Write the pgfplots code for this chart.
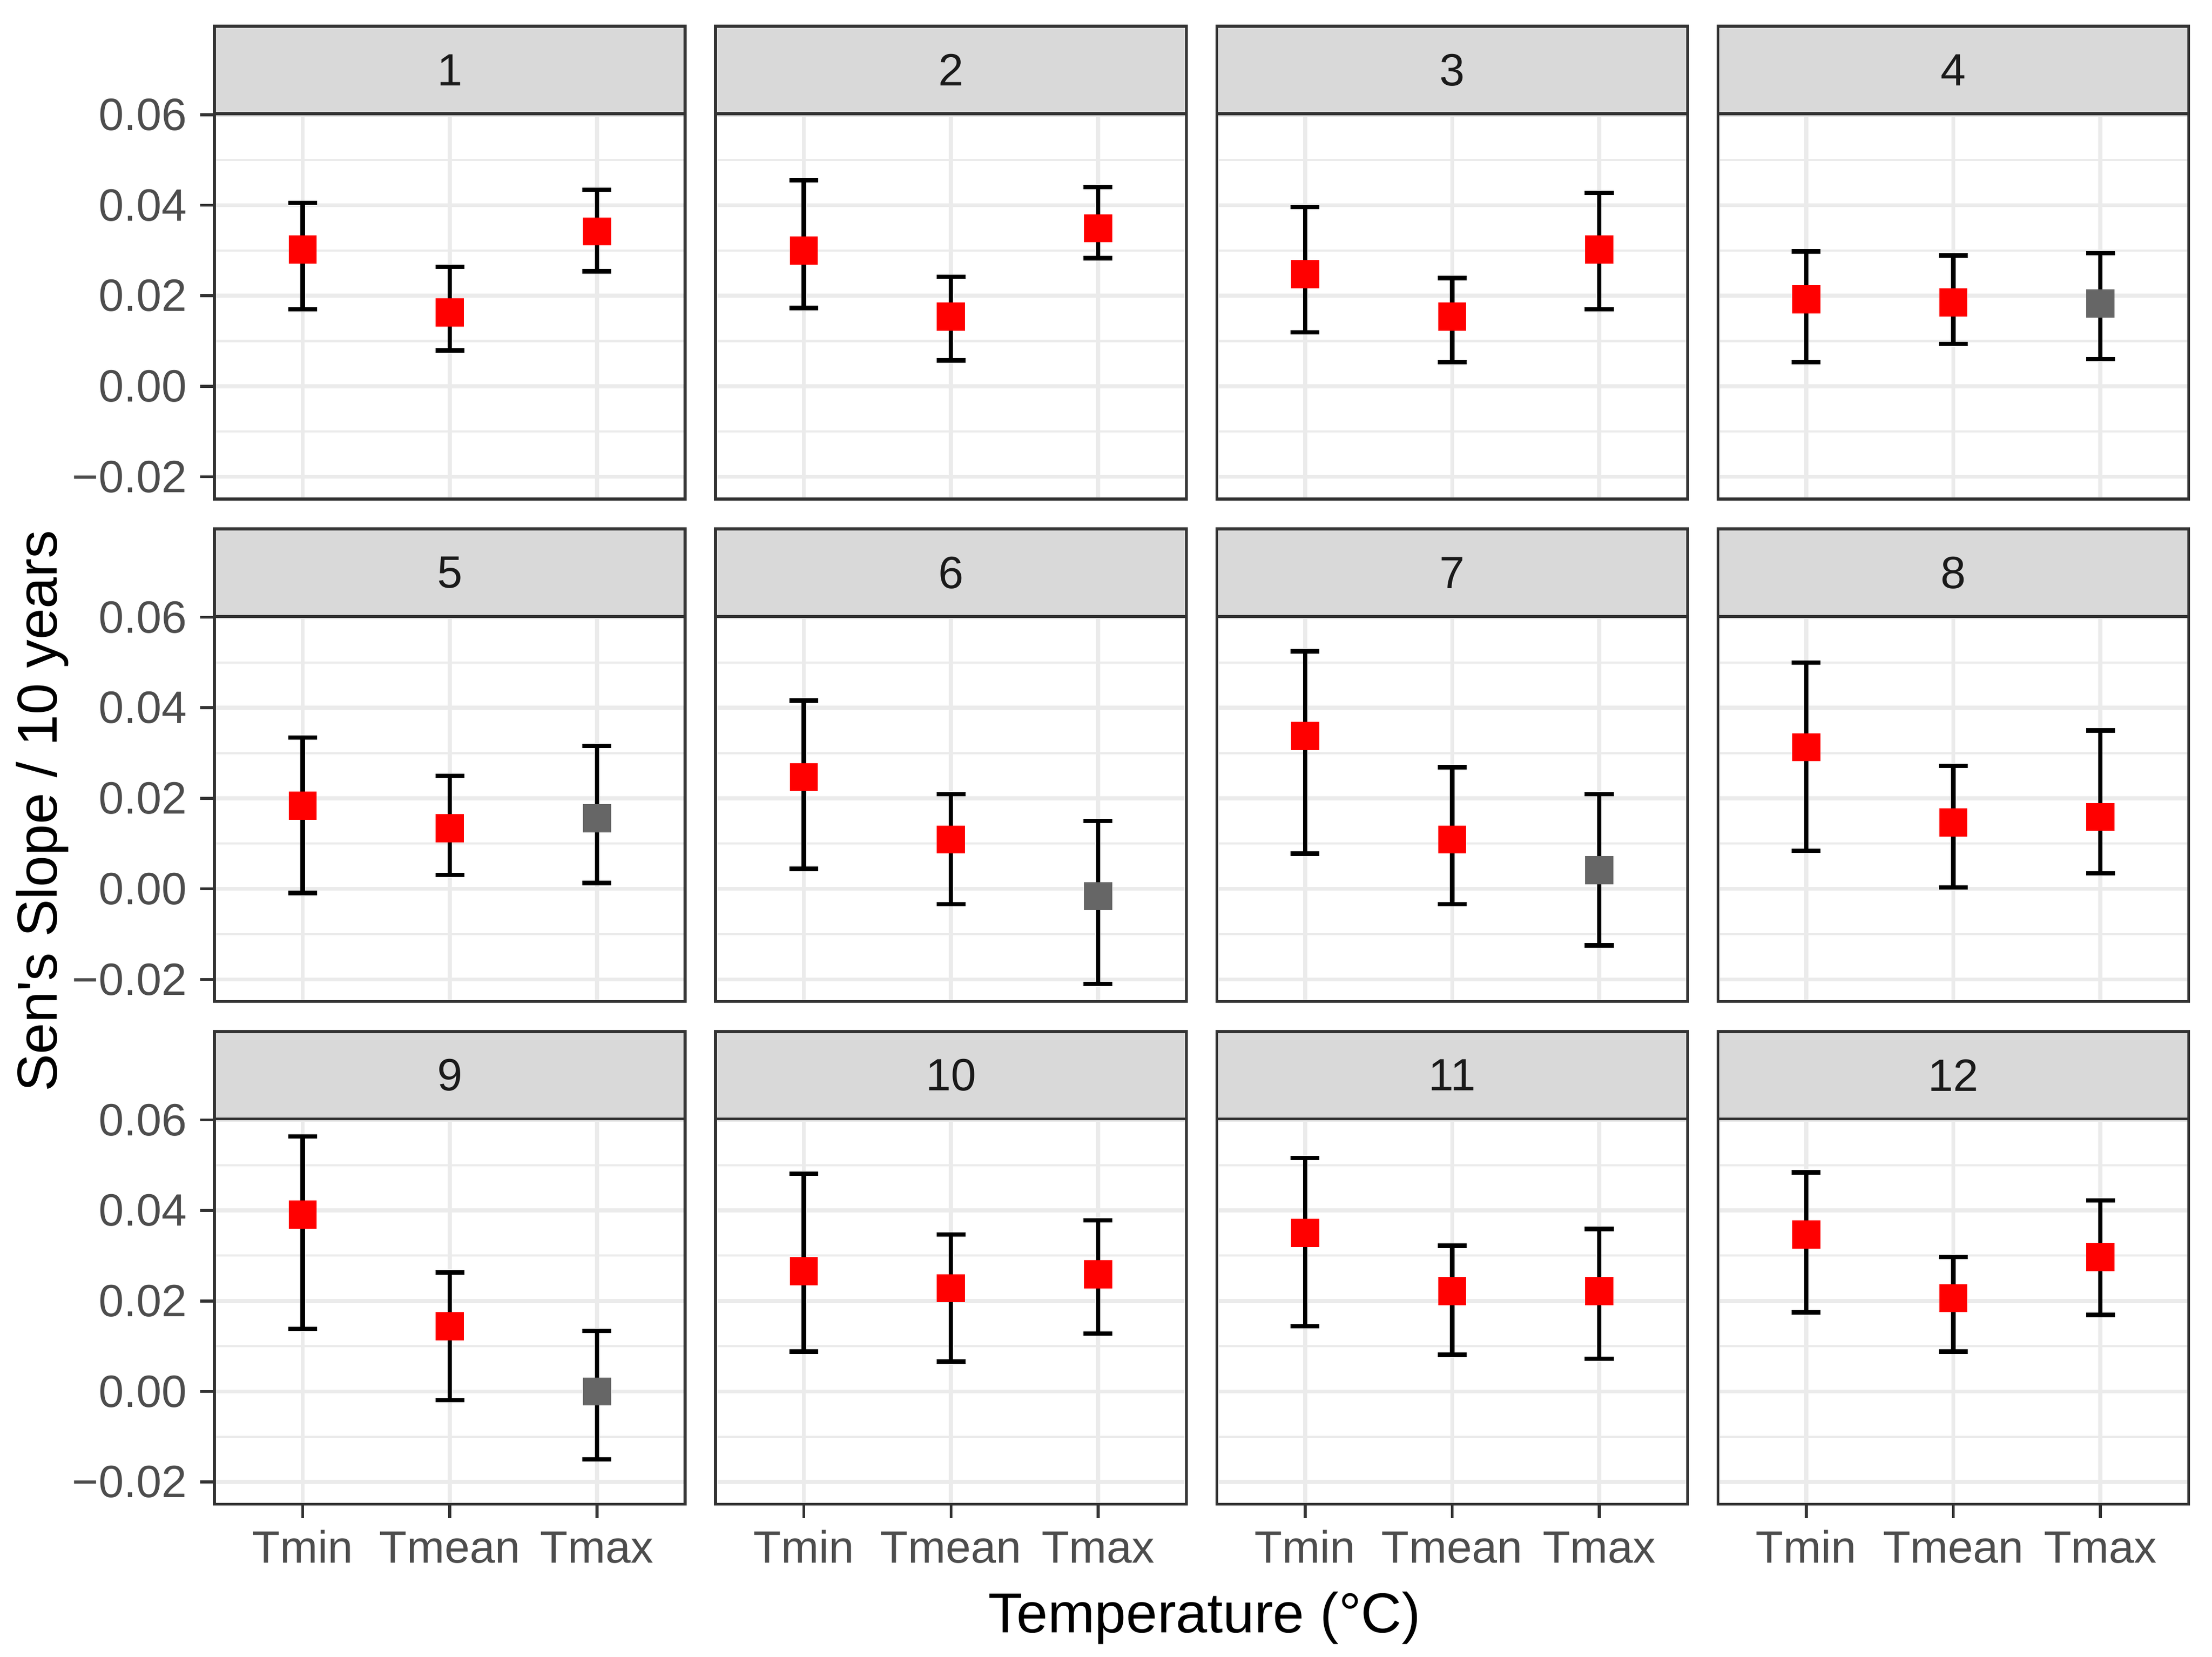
\documentclass[border=0pt]{standalone}
\usepackage{fontspec}
\setmainfont{Liberation Sans}
\usepackage{pgfplots}
\usepackage{pgfplotstable}
\pgfplotsset{compat=1.18}
\usepgfplotslibrary{groupplots}

\definecolor{grey10}{HTML}{1A1A1A}
\definecolor{grey20}{HTML}{333333}
\definecolor{grey30}{HTML}{4D4D4D}
\definecolor{grey40}{HTML}{666666}
\definecolor{grey85}{HTML}{D9D9D9}
\definecolor{grey92}{HTML}{EBEBEB}

% p = panel, x: 1 Tmin, 2 Tmean, 3 Tmax; s = 1 significant (red), 0 not (grey)
\pgfplotstableread{
p x y lo hi s
1 1 0.0302 0.0170 0.0405 1
1 2 0.0163 0.0079 0.0264 1
1 3 0.0342 0.0254 0.0434 1
2 1 0.0300 0.0173 0.0455 1
2 2 0.0154 0.0057 0.0242 1
2 3 0.0349 0.0283 0.0440 1
3 1 0.0248 0.0119 0.0396 1
3 2 0.0154 0.0053 0.0239 1
3 3 0.0302 0.0170 0.0427 1
4 1 0.0192 0.0053 0.0298 1
4 2 0.0185 0.0094 0.0289 1
4 3 0.0183 0.0060 0.0294 0
5 1 0.0184 -0.0009 0.0334 1
5 2 0.0134 0.0031 0.0250 1
5 3 0.0156 0.0013 0.0316 0
6 1 0.0247 0.0044 0.0416 1
6 2 0.0109 -0.0034 0.0209 1
6 3 -0.0016 -0.0210 0.0150 0
7 1 0.0338 0.0078 0.0525 1
7 2 0.0109 -0.0034 0.0269 1
7 3 0.0041 -0.0125 0.0209 0
8 1 0.0313 0.0084 0.0500 1
8 2 0.0147 0.0003 0.0272 1
8 3 0.0159 0.0034 0.0350 1
9 1 0.0391 0.0138 0.0563 1
9 2 0.0144 -0.0019 0.0263 1
9 3 0.0000 -0.0150 0.0134 0
10 1 0.0266 0.0088 0.0481 1
10 2 0.0228 0.0066 0.0347 1
10 3 0.0259 0.0128 0.0378 1
11 1 0.0350 0.0144 0.0516 1
11 2 0.0222 0.0081 0.0322 1
11 3 0.0222 0.0072 0.0359 1
12 1 0.0347 0.0175 0.0484 1
12 2 0.0206 0.0088 0.0297 1
12 3 0.0297 0.0169 0.0422 1
}\slopes

\newcommand{\panel}[2]{%
  \nextgroupplot[title={#1},#2]
  \addplot[black, only marks, mark=none, forget plot,
    error bars/.cd, y dir=both, y explicit,
    error bar style={line width=0.93pt, black},
    error mark options={rotate=90, mark size=3.06pt, line width=0.93pt, black}]
    table[x=x, y=y, y error plus expr=\thisrow{hi}-\thisrow{y},
      y error minus expr=\thisrow{y}-\thisrow{lo},
      restrict expr to domain={\thisrow{p}}{#1:#1}] {\slopes};
  \addplot[only marks, mark=square*, mark size=2.78pt, scatter,
    scatter src=explicit symbolic,
    scatter/classes={1={red}, 0={grey40}}]
    table[x=x, y=y, meta=s, restrict expr to domain={\thisrow{p}}{#1:#1}] {\slopes};
}

\begin{document}
\begin{tikzpicture}
\begin{groupplot}[
  group style={group size=4 by 3, horizontal sep=6.45pt, vertical sep=24.9pt,
    xticklabels at=edge bottom, yticklabels at=edge left},
  scale only axis, width=99.85pt, height=81.7pt,
  xmin=0.4, xmax=3.6, ymin=-0.0249, ymax=0.0602,
  xtick={1,2,3}, xticklabels={Tmin,Tmean,Tmax},
  ytick={-0.02,0,0.02,0.04,0.06},
  yticklabels={−0.02,0.00,0.02,0.04,0.06},
  minor ytick={-0.01,0.01,0.03,0.05},
  scaled y ticks=false,
  xtick pos=bottom, ytick pos=left,
  xmajorgrids, ymajorgrids, yminorgrids,
  major grid style={line width=0.85pt, grey92},
  minor grid style={line width=0.45pt, grey92},
  axis line style={line width=0.62pt, grey20},
  tick align=outside, major tick length=3pt, minor tick length=0pt,
  tick style={line width=0.62pt, grey20},
  ticklabel style={font=\fontsize{9.6}{11}\selectfont, text=grey30, inner sep=0pt},
  yticklabel style={anchor=east},
  xticklabel style={anchor=north, text height=0.716em},
  yticklabel shift=2.7pt, xticklabel shift=2.1pt,
  every axis title/.style={at={(0.5,1)}, anchor=south, draw=grey20, fill=grey85,
    line width=0.62pt, minimum width=99.85pt, minimum height=18.55pt,
    inner sep=0pt, outer sep=0pt, font=\fontsize{9.6}{11}\selectfont, text=grey10},
]
\panel{1}{xmajorticks=false}
\coordinate (tl) at (rel axis cs:0,1);
\panel{2}{xmajorticks=false, ymajorticks=false}
\panel{3}{xmajorticks=false, ymajorticks=false}
\panel{4}{xmajorticks=false, ymajorticks=false}
\panel{5}{xmajorticks=false}
\panel{6}{xmajorticks=false, ymajorticks=false}
\panel{7}{xmajorticks=false, ymajorticks=false}
\panel{8}{xmajorticks=false, ymajorticks=false}
\panel{9}{}
\panel{10}{ymajorticks=false}
\panel{11}{ymajorticks=false}
\panel{12}{ymajorticks=false}
\end{groupplot}
\node[rotate=90, anchor=base, font=\fontsize{11.94}{14}\selectfont]
  at ([shift={(-33.4pt,-147.9pt)}]tl) {Sen\textquotesingle s Slope / 10 years};
\node[anchor=base, font=\fontsize{11.94}{14}\selectfont]
  at ([shift={(210pt,-322.2pt)}]tl) {Temperature (°C)};
\pgfresetboundingbox
\path[use as bounding box] (tl) ++(-45.5pt,24.13pt) rectangle ++(469.2pt,-351.35pt);
\end{tikzpicture}
\end{document}
